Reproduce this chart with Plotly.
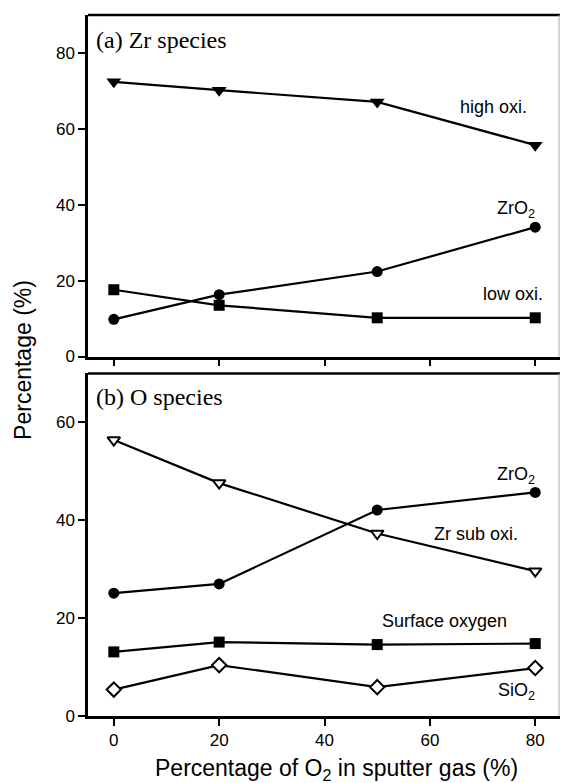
import plotly.graph_objects as go

# O2 fraction in the sputter gas (%)
o2_pct = [0, 20, 50, 80]

# (a) Zr species
zr_high_oxi = [72.4, 70.2, 67.1, 55.7]
zr_zro2 = [9.8, 16.3, 22.4, 34.1]
zr_low_oxi = [17.6, 13.5, 10.2, 10.2]

# (b) O species
o_zr_sub_oxi = [56.4, 47.6, 37.3, 29.6]
o_zro2 = [25.1, 27.0, 42.1, 45.7]
o_surface = [13.1, 15.1, 14.6, 14.8]
o_sio2 = [5.4, 10.4, 5.9, 9.8]

x_ticks = [0, 20, 40, 60, 80]
top_y_ticks = [0, 20, 40, 60, 80]
bottom_y_ticks = [0, 20, 40, 60]

SANS = "Liberation Sans, Arial, sans-serif"
SERIF = "Liberation Serif, Times New Roman, serif"

fig = go.Figure()


def add_series(y, yaxis, symbol, size, filled=True):
    fig.add_trace(go.Scatter(
        x=o2_pct, y=y, mode="lines+markers",
        xaxis="x" if yaxis == "y" else "x2", yaxis=yaxis,
        line=dict(color="black", width=2.2),
        marker=dict(symbol=symbol, size=size,
                    color="black" if filled else "white",
                    line=dict(color="black", width=2 if not filled else 0)),
        showlegend=False, cliponaxis=False,
    ))


add_series(zr_high_oxi, "y", "triangle-down", 13)
add_series(zr_zro2, "y", "circle", 11)
add_series(zr_low_oxi, "y", "square", 11)

add_series(o_zr_sub_oxi, "y2", "triangle-down", 11, filled=False)
add_series(o_zro2, "y2", "circle", 11)
add_series(o_surface, "y2", "square", 11)
add_series(o_sio2, "y2", "diamond", 11, filled=False)

x_range = [-4.9, 84.7]
axis_common = dict(
    showline=True, linecolor="black", linewidth=2.5,
    ticks="outside", ticklen=7, tickwidth=2, tickcolor="black",
    showgrid=False, zeroline=False,
    tickfont=dict(family=SANS, size=17, color="black"),
)

fig.update_layout(
    width=561, height=783,
    margin=dict(l=88, r=1, t=15, b=67),
    paper_bgcolor="white", plot_bgcolor="white",
    xaxis=dict(domain=[0, 1], range=x_range, anchor="y", tickvals=x_ticks,
               showticklabels=False, **axis_common),
    yaxis=dict(domain=[0.5128, 1], range=[0, 90], anchor="x",
               tickvals=top_y_ticks, **axis_common),
    xaxis2=dict(domain=[0, 1], range=x_range, anchor="y2", tickvals=x_ticks,
                **axis_common),
    yaxis2=dict(domain=[0, 0.4886], range=[0, 70], anchor="x2",
                tickvals=bottom_y_ticks, **axis_common),
)

# panel frame: heavy top edge, thin grey right edge
for xr, yr in (("x domain", "y domain"), ("x2 domain", "y2 domain")):
    fig.add_shape(type="line", xref=xr, yref=yr, x0=0, x1=1, y0=1, y1=1,
                  line=dict(color="black", width=2.5))
    fig.add_shape(type="line", xref=xr, yref=yr, x0=0.998, x1=0.998, y0=0, y1=1,
                  line=dict(color="#aaaaaa", width=1))

label_font = dict(family=SANS, size=18, color="black")
labels = [
    ("x", "y", 72.0, 65.7, "high oxi."),
    ("x", "y", 76.4, 38.8, "ZrO<sub>2</sub>"),
    ("x", "y", 75.7, 16.6, "low oxi."),
    ("x2", "y2", 76.4, 49.1, "ZrO<sub>2</sub>"),
    ("x2", "y2", 68.8, 37.2, "Zr sub oxi."),
    ("x2", "y2", 62.8, 19.4, "Surface oxygen"),
    ("x2", "y2", 76.4, 5.1, "SiO<sub>2</sub>"),
]
for xr, yr, xv, yv, txt in labels:
    fig.add_annotation(xref=xr, yref=yr, x=xv, y=yv, text=txt,
                       showarrow=False, xanchor="center", yanchor="middle",
                       font=label_font)

title_font = dict(family=SERIF, size=24, color="black")
fig.add_annotation(xref="x", yref="y", x=-3.7, y=83.4, text="(a) Zr species",
                   showarrow=False, xanchor="left", yanchor="middle", font=title_font)
fig.add_annotation(xref="x2", yref="y2", x=-3.7, y=65.2, text="(b) O species",
                   showarrow=False, xanchor="left", yanchor="middle", font=title_font)

axis_title_font = dict(family=SANS, size=23, color="black")
fig.add_annotation(xref="paper", yref="paper", x=-0.1377, y=0.508,
                   text="Percentage (%)", textangle=-90, showarrow=False,
                   xanchor="center", yanchor="middle", font=axis_title_font)
fig.add_annotation(xref="paper", yref="paper", x=0.5265, y=-0.077,
                   text="Percentage of O<sub>2</sub> in sputter gas (%)",
                   showarrow=False, xanchor="center", yanchor="middle",
                   font=axis_title_font)

fig.write_html("out.html")
